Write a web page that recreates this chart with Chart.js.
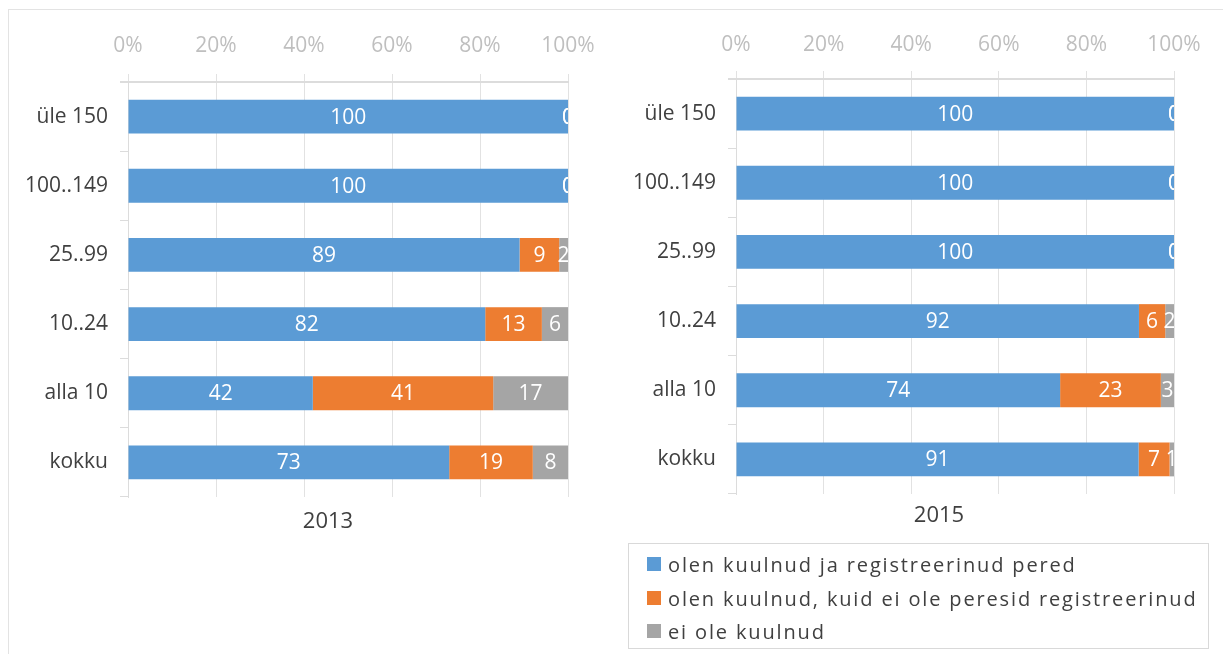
<!DOCTYPE html>
<html>
<head>
<meta charset="utf-8">
<script src="https://cdn.jsdelivr.net/npm/chart.js@4.4.1/dist/chart.umd.min.js"></script>
<style>
  html,body{margin:0;padding:0;background:#fff;width:1223px;height:654px;overflow:hidden;font-family:"Open Sans",sans-serif;}
  #frame{position:absolute;left:8px;top:9px;width:1230px;height:660px;border:1px solid #e3e3e3;box-sizing:border-box;}
  canvas{position:absolute;top:0;}
  #c1{left:0;}
  #c2{left:610px;}
  #legend{position:absolute;left:628px;top:543px;width:581px;height:106px;border:1px solid #d9d9d9;box-sizing:border-box;}
  .li{position:absolute;left:18px;height:24px;display:flex;align-items:center;font-size:20px;color:#404040;letter-spacing:1.85px;white-space:nowrap;}
  .sw{width:14px;height:14px;margin-right:7px;flex:none;}
</style>
</head>
<body>
<div id="frame"></div>
<canvas id="c1" width="610" height="654"></canvas>
<canvas id="c2" width="613" height="654"></canvas>
<div id="legend"></div>
<script>
// ---- data ----
const categories = ['üle 150', '100..149', '25..99', '10..24', 'alla 10', 'kokku'];
const seriesNames = ['olen kuulnud ja registreerinud pered', 'olen kuulnud, kuid ei ole peresid registreerinud', 'ei ole kuulnud'];
const seriesColors = ['#5b9bd5', '#ed7d31', '#a5a5a5'];
const xTicks = [0, 20, 40, 60, 80, 100];

const heardRegistered2013 = [100, 100, 89, 82, 42, 73];
const heardNotRegistered2013 = [0, 0, 9, 13, 41, 19];
const notHeard2013 = [0, 0, 2, 6, 17, 8];

const heardRegistered2015 = [100, 100, 100, 92, 74, 91];
const heardNotRegistered2015 = [0, 0, 0, 6, 23, 7];
const notHeard2015 = [0, 0, 0, 2, 3, 1];

// ---- helpers ----
function toPercentStack(rows) {
  const totals = categories.map((_, i) => rows.reduce((s, r) => s + r[i], 0));
  return rows.map(r => r.map((v, i) => totals[i] ? v / totals[i] * 100 : 0));
}

const labelPlugin = {
  id: 'segLabels',
  afterDatasetsDraw(chart) {
    const ctx = chart.ctx, a = chart.chartArea;
    ctx.save();
    ctx.beginPath();
    ctx.rect(a.left, a.top - 20, a.right - a.left, a.bottom - a.top + 40);
    ctx.clip();
    ctx.font = '21px "Open Sans"';
    ctx.fillStyle = '#ffffff';
    ctx.textAlign = 'center';
    ctx.textBaseline = 'middle';
    chart.data.datasets.forEach((ds, di) => {
      const meta = chart.getDatasetMeta(di);
      meta.data.forEach((el, i) => {
        const cx = (el.x + el.base) / 2;
        ctx.fillText(String(ds.rawValues[i]), cx, el.y + 1);
      });
    });
    ctx.restore();
  }
};

const panelTitlePlugin = {
  id: 'panelTitle',
  afterDraw(chart, args, opts) {
    const ctx = chart.ctx;
    ctx.save();
    ctx.font = '22px "Open Sans"';
    ctx.fillStyle = '#404040';
    ctx.textAlign = 'center';
    ctx.textBaseline = 'middle';
    ctx.fillText(opts.text, opts.x, opts.y);
    ctx.restore();
  }
};

function makeChart(id, title, rows, yWidth, xHeight, tickPad, padRight, padBottom, titleX, titleY) {
  const pct = toPercentStack(rows);
  return new Chart(document.getElementById(id), {
    type: 'bar',
    data: {
      labels: categories,
      datasets: seriesNames.map((n, k) => ({
        label: n,
        data: pct[k],
        rawValues: rows[k],
        backgroundColor: seriesColors[k],
        borderWidth: 0,
        categoryPercentage: 1,
        barPercentage: 0.49
      }))
    },
    options: {
      indexAxis: 'y',
      responsive: false,
      animation: false,
      devicePixelRatio: 1,
      layout: { padding: { left: 0, right: padRight, top: 0, bottom: padBottom } },
      plugins: {
        legend: { display: false },
        tooltip: { enabled: false },
        title: { display: false },
        panelTitle: { text: title, x: titleX, y: titleY }
      },
      scales: {
        x: {
          position: 'top', stacked: true, min: 0, max: 100,
          afterBuildTicks: s => { s.ticks = xTicks.map(v => ({ value: v })); },
          afterFit: s => { s.height = xHeight; },
          ticks: { callback: v => v + '%', color: '#bfbfbf', font: { family: 'Open Sans', size: 21 }, padding: tickPad, maxRotation: 0 },
          grid: { color: '#e2e2e2', tickLength: 8, drawTicks: true, lineWidth: 1 },
          border: { display: true, color: '#dcdcdc', width: 2 }
        },
        y: {
          stacked: true,
          afterFit: s => { s.width = yWidth; },
          ticks: { color: '#404040', font: { family: 'Open Sans', size: 21 }, padding: 12 },
          grid: {
            offset: true, drawOnChartArea: true, tickLength: 8,
            color: c => (c.index === 0 || c.index === categories.length) ? '#dcdcdc' : 'rgba(0,0,0,0)',
            tickColor: '#dcdcdc', lineWidth: c => (c.index === 0 || c.index === categories.length) ? 2 : 1
          },
          border: { display: true, color: '#dcdcdc', width: 1 }
        }
      }
    },
    plugins: [labelPlugin, panelTitlePlugin]
  });
}

makeChart('c1', '2013', [heardRegistered2013, heardNotRegistered2013, notHeard2013], 128, 82, 15, 42, 157, 328, 522);
makeChart('c2', '2015', [heardRegistered2015, heardNotRegistered2015, notHeard2015], 126, 79, 13, 49, 160, 329, 516);

// ---- legend ----
const lg = document.getElementById('legend');
const rowTops = [8, 42, 75];
seriesNames.forEach((n, k) => {
  const d = document.createElement('div');
  d.className = 'li';
  d.style.top = rowTops[k] + 'px';
  const sw = document.createElement('span');
  sw.className = 'sw';
  sw.style.background = seriesColors[k];
  const t = document.createElement('span');
  t.textContent = n;
  d.appendChild(sw); d.appendChild(t);
  lg.appendChild(d);
});
</script>
</body>
</html>
